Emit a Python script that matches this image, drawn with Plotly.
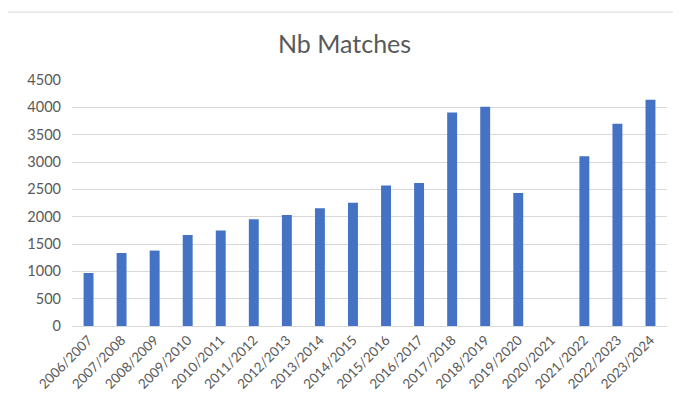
import plotly.graph_objects as go

seasons = ["2006/2007", "2007/2008", "2008/2009", "2009/2010", "2010/2011", "2011/2012",
           "2012/2013", "2013/2014", "2014/2015", "2015/2016", "2016/2017", "2017/2018",
           "2018/2019", "2019/2020", "2020/2021", "2021/2022", "2022/2023", "2023/2024"]
nb_matches = [970, 1335, 1380, 1665, 1745, 1955, 2030, 2155, 2255, 2570, 2615, 3905,
              4010, 2435, 0, 3105, 3700, 4140]
y_ticks = [0, 500, 1000, 1500, 2000, 2500, 3000, 3500, 4000, 4500]

fig = go.Figure(go.Bar(x=seasons, y=nb_matches, marker_color="#4472C4",
                       marker_line_width=0, width=0.3))

fig.update_layout(
    width=673, height=401,
    margin=dict(l=64, r=14, t=72, b=83),
    paper_bgcolor="white", plot_bgcolor="white",
    font=dict(family="Lato, Carlito, sans-serif", color="#595959", size=13),
    title=dict(text="Nb Matches", x=0.5, xanchor="center", y=1 - 36 / 401, yanchor="middle",
               font=dict(size=25, color="#595959")),
    showlegend=False,
    bargap=0.7,
)
fig.update_yaxes(range=[0, 4500], tickvals=y_ticks, showgrid=True, gridcolor="#d9d9d9",
                 gridwidth=1, zeroline=False, showline=False, ticks="", automargin=False,
                 ticklabelstandoff=10, tickfont=dict(size=14.5))
fig.update_xaxes(tickangle=-45, showgrid=False, showline=True, linecolor="#d9d9d9",
                 linewidth=1, ticks="", automargin=False, tickfont=dict(size=13.5))
fig.add_shape(type="rect", xref="paper", yref="paper", x0=-0.109, x1=1.2, y0=-0.6, y1=1.276,
              line=dict(color="#d9d9d9", width=1), fillcolor="rgba(0,0,0,0)", layer="below")

fig.write_html("out.html")
